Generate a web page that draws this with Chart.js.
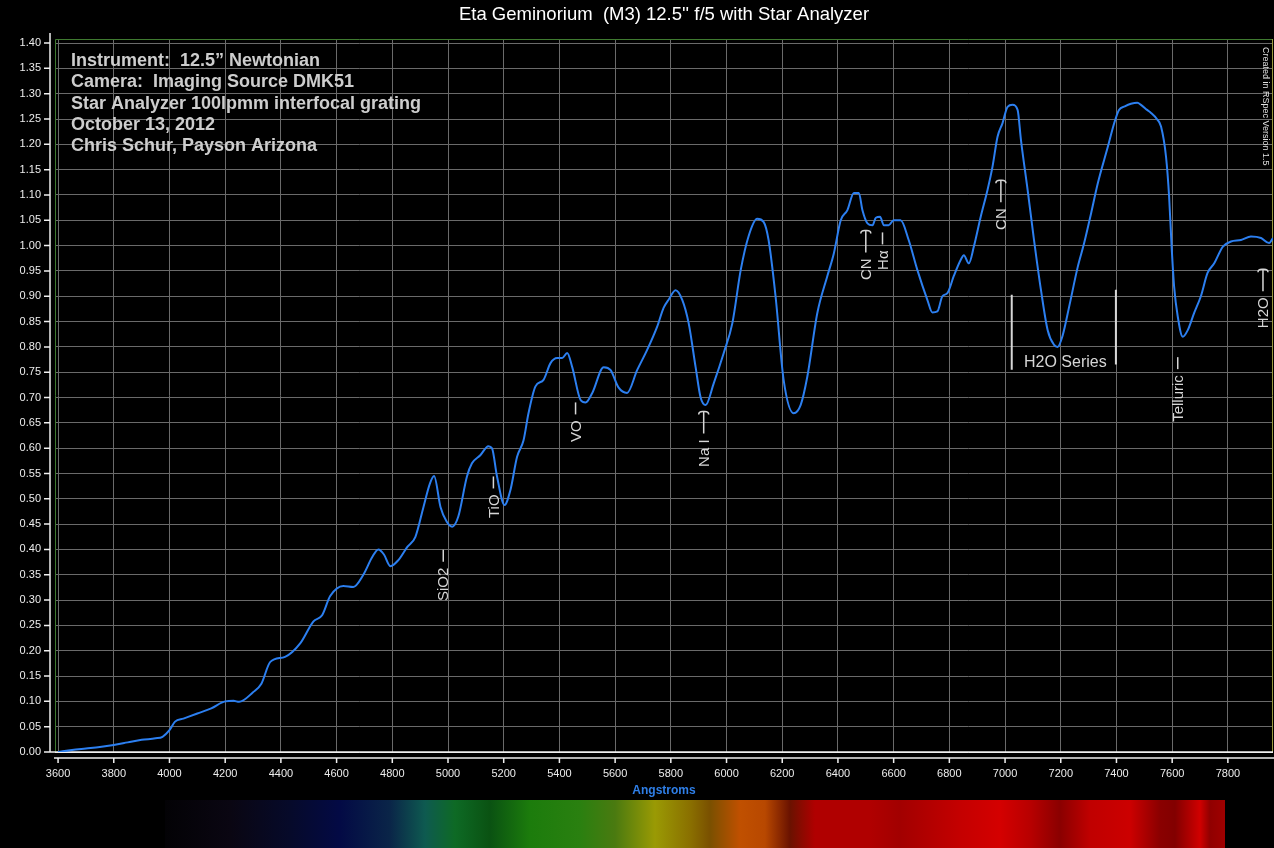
<!DOCTYPE html>
<html>
<head>
<meta charset="utf-8">
<title>Eta Geminorium spectrum</title>
<script src="https://cdn.jsdelivr.net/npm/chart.js@4.4.0/dist/chart.umd.min.js"></script>
<style>
  html, body { margin: 0; padding: 0; background: #000; }
  #wrap { position: relative; width: 1274px; height: 848px; }
</style>
</head>
<body>
<div id="wrap"><canvas id="spec" width="1274" height="848"></canvas></div>
<script>
// wavelength (Angstrom) and relative intensity
const wavelengths = [
  3600, 3650, 3700, 3750, 3800, 3850, 3900, 3950, 3975, 4000,
  4020, 4050, 4100, 4150, 4200, 4230, 4250, 4300, 4330, 4362,
  4415, 4470, 4517, 4548, 4577, 4624, 4660, 4696, 4728, 4750,
  4770, 4793, 4822, 4854, 4883, 4912, 4935, 4950, 4973, 4995,
  5015, 5037, 5068, 5086, 5116, 5145, 5158, 5176, 5203, 5224,
  5248, 5271, 5289, 5314, 5343, 5368, 5392, 5410, 5428, 5446,
  5476, 5494, 5518, 5559, 5584, 5612, 5643, 5679, 5715, 5751,
  5774, 5792, 5817, 5841, 5864, 5889, 5907, 5925, 5954, 5990,
  6021, 6051, 6080, 6110, 6133, 6151, 6176, 6205, 6241, 6266,
  6290, 6326, 6362, 6385, 6410, 6434, 6457, 6475, 6488, 6506,
  6524, 6536, 6551, 6565, 6582, 6600, 6625, 6654, 6685, 6721,
  6739, 6757, 6775, 6793, 6816, 6841, 6852, 6870, 6888, 6913,
  6937, 6955, 6973, 6991, 7009, 7027, 7045, 7057, 7081, 7104,
  7129, 7153, 7176, 7189, 7207, 7230, 7261, 7284, 7309, 7333,
  7369, 7392, 7409, 7430, 7452, 7475, 7488, 7510, 7524, 7545,
  7560, 7578, 7589, 7598, 7607, 7620, 7638, 7656, 7679, 7703,
  7727, 7751, 7782, 7811, 7847, 7883, 7919, 7948, 7962
];
const flux = [
  0.000, 0.004, 0.007, 0.010, 0.014, 0.019, 0.024, 0.027, 0.030, 0.043,
  0.060, 0.066, 0.076, 0.086, 0.100, 0.101, 0.099, 0.118, 0.135, 0.178,
  0.188, 0.215, 0.258, 0.270, 0.308, 0.328, 0.326, 0.350, 0.385, 0.400,
  0.390, 0.367, 0.379, 0.405, 0.425, 0.484, 0.530, 0.545, 0.484, 0.455,
  0.445, 0.465, 0.544, 0.570, 0.586, 0.604, 0.600, 0.544, 0.488, 0.517,
  0.583, 0.615, 0.669, 0.722, 0.735, 0.768, 0.778, 0.778, 0.788, 0.760,
  0.695, 0.690, 0.709, 0.760, 0.754, 0.720, 0.709, 0.754, 0.794, 0.840,
  0.877, 0.893, 0.912, 0.893, 0.847, 0.760, 0.700, 0.685, 0.728, 0.788,
  0.847, 0.952, 1.020, 1.053, 1.047, 1.011, 0.900, 0.735, 0.669, 0.685,
  0.741, 0.867, 0.940, 0.984, 1.050, 1.070, 1.104, 1.104, 1.070, 1.044,
  1.040, 1.055, 1.057, 1.040, 1.040, 1.050, 1.050, 1.011, 0.952, 0.893,
  0.868, 0.870, 0.900, 0.906, 0.940, 0.972, 0.981, 0.965, 0.998, 1.058,
  1.110, 1.156, 1.215, 1.242, 1.274, 1.278, 1.268, 1.209, 1.110, 1.011,
  0.912, 0.833, 0.804, 0.800, 0.823, 0.879, 0.958, 1.005, 1.064, 1.123,
  1.195, 1.242, 1.268, 1.275, 1.280, 1.282, 1.278, 1.268, 1.262, 1.250,
  1.235, 1.175, 1.097, 0.998, 0.919, 0.860, 0.820, 0.833, 0.867, 0.900,
  0.946, 0.965, 0.998, 1.008, 1.011, 1.018, 1.015, 1.005, 1.015
];
const xTicks = [3600, 3800, 4000, 4200, 4400, 4600, 4800, 5000, 5200, 5400, 5600,
  5800, 6000, 6200, 6400, 6600, 6800, 7000, 7200, 7400, 7600, 7800];
const yTicks = [0.00, 0.05, 0.10, 0.15, 0.20, 0.25, 0.30, 0.35, 0.40, 0.45, 0.50,
  0.55, 0.60, 0.65, 0.70, 0.75, 0.80, 0.85, 0.90, 0.95, 1.00, 1.05, 1.10, 1.15,
  1.20, 1.25, 1.30, 1.35, 1.40];

const infoLines = [
  'Instrument:  12.5\u201D Newtonian',
  'Camera:  Imaging Source DMK51',
  'Star Analyzer 100lpmm interfocal grating',
  'October 13, 2012',
  'Chris Schur, Payson Arizona'
];
// line identifications: label, wavelength, value where the label starts
const bandNames = ['SiO2', 'TiO', 'VO', 'Na I', 'CN', 'H\u03B1', 'CN', 'Telluric', 'H2O'];
const bandWaves = [4983, 5163, 5458, 5918, 6500, 6560, 6985, 7620, 7926];
const bandBase  = [0.298, 0.462, 0.612, 0.563, 0.932, 0.952, 1.031, 0.652, 0.837];
const bandBrace = [false, false, false, true, true, false, true, false, true];

const h2oSeriesWaves = [7024, 7398];

// colours of the synthetic spectrum strip under the axis, left to right
const stripColors = ['#030205', '#0a0612', '#060a2a', '#030a45', '#0a2548', '#0e5a50',
  '#0e6a25', '#0a5212', '#1c7c0c', '#2a8010', '#4a7a10', '#9a9a04', '#8a7000', '#7a5000',
  '#c05000', '#b84800', '#6a1200', '#b00000', '#b00000', '#a20000', '#c40000', '#d40000',
  '#b80000', '#8a0000', '#c00000', '#cc0000', '#8a0000', '#820000', '#d00000', '#900000', '#a00000'];
const stripPos = [165, 230, 290, 340, 390, 425, 455, 490, 530, 580, 615, 655, 690, 710,
  740, 765, 790, 815, 870, 900, 960, 1000, 1030, 1060, 1090, 1130, 1160, 1175, 1200, 1210, 1225];

const labelGrey = '#d6d6d6';

const decorations = {
  id: 'decorations',
  beforeDatasetsDraw(chart) {
    const {ctx, chartArea: a, scales: {x, y}} = chart;
    ctx.save();
    // green frame of the plot
    ctx.strokeStyle = '#3f7a30';
    ctx.lineWidth = 1;
    ctx.beginPath();
    ctx.moveTo(a.left + 0.5, a.bottom);
    ctx.lineTo(a.left + 0.5, a.top + 0.5);
    ctx.lineTo(a.right - 0.5, a.top + 0.5);
    ctx.stroke();
    ctx.strokeStyle = '#9a9a40';
    ctx.beginPath();
    ctx.moveTo(a.right - 0.5, a.top);
    ctx.lineTo(a.right - 0.5, a.bottom);
    ctx.stroke();

    // white axis lines offset from the plot, with their tick marks
    ctx.strokeStyle = '#f0f0f0';
    ctx.lineWidth = 1.5;
    ctx.beginPath();
    ctx.moveTo(a.left - 5, a.top - 6);
    ctx.lineTo(a.left - 5, a.bottom);
    yTicks.forEach(v => {
      const py = y.getPixelForValue(v);
      ctx.moveTo(a.left - 11, py);
      ctx.lineTo(a.left - 5, py);
    });
    ctx.moveTo(a.left - 11, a.bottom);
    ctx.lineTo(a.right, a.bottom);
    ctx.moveTo(a.left - 1, a.bottom + 6);
    ctx.lineTo(chart.width, a.bottom + 6);
    xTicks.forEach(v => {
      const px = x.getPixelForValue(v);
      ctx.moveTo(px, a.bottom + 6);
      ctx.lineTo(px, a.bottom + 11);
    });
    ctx.stroke();

    // spectrum strip
    const g = ctx.createLinearGradient(stripPos[0], 0, stripPos[stripPos.length - 1], 0);
    stripPos.forEach((p, i) => {
      g.addColorStop((p - stripPos[0]) / (stripPos[stripPos.length - 1] - stripPos[0]), stripColors[i]);
    });
    ctx.fillStyle = g;
    ctx.fillRect(stripPos[0], 800, stripPos[stripPos.length - 1] - stripPos[0], 48);
    ctx.restore();
  },
  afterDatasetsDraw(chart) {
    const {ctx, scales: {x, y}} = chart;
    ctx.save();
    ctx.fillStyle = labelGrey;
    ctx.strokeStyle = labelGrey;
    ctx.lineWidth = 1.5;
    ctx.font = '15px Arial, "Liberation Sans", sans-serif';
    ctx.textBaseline = 'middle';
    ctx.textAlign = 'left';

    bandNames.forEach((name, i) => {
      const px = x.getPixelForValue(bandWaves[i]);
      const py = y.getPixelForValue(bandBase[i]);
      const w = ctx.measureText(name).width;
      const len = bandBrace[i] ? 22 : 12;
      ctx.save();
      ctx.translate(px, py);
      ctx.rotate(-Math.PI / 2);
      ctx.fillText(name, 0, 1);
      const s = w + 6, e = s + len;
      ctx.beginPath();
      ctx.moveTo(s, 0);
      ctx.lineTo(e, 0);
      if (bandBrace[i]) {
        ctx.moveTo(e - 3, -5);
        ctx.quadraticCurveTo(e, -5, e, -1);
        ctx.lineTo(e, 1);
        ctx.quadraticCurveTo(e, 5, e - 3, 5);
      }
      ctx.stroke();
      ctx.restore();
    });

    // H2O series bracket
    ctx.beginPath();
    ctx.lineWidth = 2;
    ctx.moveTo(x.getPixelForValue(h2oSeriesWaves[0]), y.getPixelForValue(0.903));
    ctx.lineTo(x.getPixelForValue(h2oSeriesWaves[0]), y.getPixelForValue(0.755));
    ctx.moveTo(x.getPixelForValue(h2oSeriesWaves[1]), y.getPixelForValue(0.913));
    ctx.lineTo(x.getPixelForValue(h2oSeriesWaves[1]), y.getPixelForValue(0.765));
    ctx.stroke();
    ctx.font = '16px Arial, "Liberation Sans", sans-serif';
    ctx.fillText('H2O Series', x.getPixelForValue(7068), y.getPixelForValue(0.768));

    // observing notes
    ctx.fillStyle = '#cdcdcd';
    ctx.font = 'bold 18px Arial, "Liberation Sans", sans-serif';
    ctx.textBaseline = 'alphabetic';
    infoLines.forEach((t, i) => ctx.fillText(t, 71, 66 + i * 21.3));

    // software credit, vertical
    ctx.save();
    ctx.translate(1265, 47);
    ctx.rotate(Math.PI / 2);
    ctx.font = '9px Arial, "Liberation Sans", sans-serif';
    ctx.fillStyle = '#e0e0e0';
    ctx.textBaseline = 'middle';
    ctx.fillText('Created in RSpec Version 1.5', 0, 0);
    ctx.restore();
    ctx.restore();
  }
};

const gridGrey = '#6a6a6a';

new Chart(document.getElementById('spec').getContext('2d'), {
  type: 'line',
  data: {
    datasets: [{
      label: 'Eta Geminorium',
      data: wavelengths.map((w, i) => ({x: w, y: flux[i]})),
      borderColor: '#2c7ff0',
      borderWidth: 2,
      pointRadius: 0,
      cubicInterpolationMode: 'monotone',
      fill: false
    }]
  },
  options: {
    responsive: false,
    devicePixelRatio: 1,
    animation: false,
    layout: {padding: {left: 0, right: 1, top: 0, bottom: 0}},
    scales: {
      x: {
        type: 'linear',
        min: 3589,
        max: 7962,
        afterBuildTicks: s => { s.ticks = xTicks.map(v => ({value: v})); },
        afterFit: s => { s.height = 96; },
        grid: {color: gridGrey, drawTicks: false},
        border: {display: false},
        ticks: {
          color: '#ececec',
          font: {size: 11, family: 'Arial'},
          padding: 15,
          maxRotation: 0,
          autoSkip: false,
          callback: v => String(v)
        },
        title: {
          display: true,
          text: 'Angstroms',
          color: '#2f7fe8',
          font: {size: 12, weight: 'bold', family: 'Arial'},
          padding: {top: 0, bottom: 50}
        }
      },
      y: {
        min: 0,
        max: 1.408,
        afterBuildTicks: s => { s.ticks = yTicks.map(v => ({value: v})); },
        afterFit: s => { s.width = 55; },
        grid: {color: c => (c.tick && c.tick.value === 0 ? '#f0f0f0' : gridGrey), drawTicks: false},
        border: {display: false},
        ticks: {
          color: '#ececec',
          font: {size: 11, family: 'Arial'},
          padding: 14,
          autoSkip: false,
          callback: v => Number(v).toFixed(2)
        }
      }
    },
    plugins: {
      legend: {display: false},
      tooltip: {enabled: false},
      title: {
        display: true,
        fullSize: false,
        text: 'Eta Geminorium  (M3) 12.5\'\' f/5 with Star Analyzer',
        color: '#ffffff',
        font: {size: 18.5, weight: 'normal', family: 'Arial'},
        padding: {top: 4, bottom: 12.8}
      }
    }
  },
  plugins: [decorations]
});
</script>
</body>
</html>
